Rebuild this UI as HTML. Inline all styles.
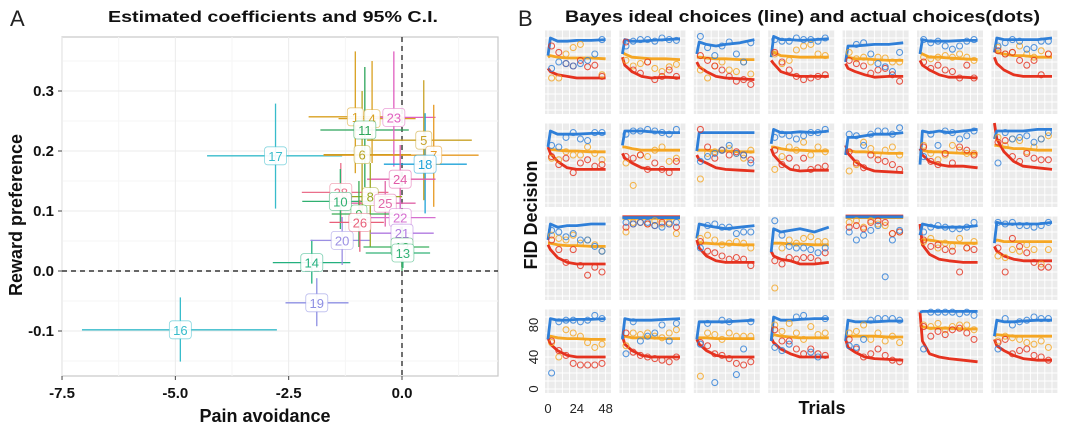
<!DOCTYPE html>
<html><head><meta charset="utf-8">
<style>
html,body{margin:0;padding:0;background:#fff;}
svg{display:block;font-family:"Liberation Sans",sans-serif;}
</style></head>
<body>
<svg id="fig" width="1080" height="430" viewBox="0 0 1080 430" xmlns="http://www.w3.org/2000/svg">
<text x="10" y="26" font-size="22" fill="#222">A</text>
<text x="108" y="22" font-size="16" font-weight="bold" textLength="330" lengthAdjust="spacingAndGlyphs" fill="#111">Estimated coefficients and 95% C.I.</text>
<text x="518" y="26" font-size="22" fill="#222">B</text>
<text x="565" y="22" font-size="17" font-weight="bold" textLength="475" lengthAdjust="spacingAndGlyphs" fill="#111">Bayes ideal choices (line) and actual choices(dots)</text>
<g id="pa"></g>
<g id="pb"></g>
<text x="265" y="422" font-size="18" font-weight="bold" text-anchor="middle" fill="#111">Pain avoidance</text>
<text transform="translate(22,215) rotate(-90)" font-size="18" font-weight="bold" text-anchor="middle" fill="#111">Reward preference</text>
<text transform="translate(537,215) rotate(-90)" font-size="18" font-weight="bold" text-anchor="middle" fill="#111">FID Decision</text>
<text x="822" y="414" font-size="18" font-weight="bold" text-anchor="middle" fill="#111">Trials</text>
</svg>
<script>
// ---------- Panel A data ----------
const aLabels = ["16","17","19","14","20","1","4","11","6","23","5","7","18","24","28","10","8","25","9","26","22","21","12","13"];
const aX   = [-4.89,-2.79,-1.88,-1.99,-1.32,-1.03,-0.66,-0.82,-0.88,-0.18,0.48,0.70,0.51,-0.04,-1.35,-1.36,-0.70,-0.37,-0.95,-0.93,-0.04,0.0,0.0,0.02];
const aY   = [-0.098,0.192,-0.053,0.014,0.051,0.257,0.254,0.235,0.194,0.256,0.218,0.193,0.178,0.153,0.131,0.116,0.124,0.113,0.095,0.081,0.089,0.063,0.040,0.030];
const aXlo = [-7.06,-4.30,-2.57,-2.85,-2.02,-2.06,-1.40,-1.80,-1.73,-0.55,-0.77,-1.73,-0.40,-0.77,-2.21,-2.20,-1.30,-1.30,-1.55,-1.60,-0.80,-0.70,-0.85,-0.80];
const aXhi = [-2.76,-1.32,-1.18,-1.14,-0.70,0.00,0.30,0.15,0.20,0.74,1.54,1.69,1.43,0.74,-0.30,-0.40,0.00,0.30,-0.20,-0.40,0.74,0.70,0.60,0.62];
const aYlo = [-0.151,0.104,-0.092,-0.021,0.010,0.163,0.180,0.140,0.090,0.174,0.118,0.107,0.096,0.090,0.080,0.070,0.040,0.074,0.040,0.032,0.060,0.030,0.000,0.005];
const aYhi = [-0.044,0.279,-0.012,0.052,0.090,0.366,0.350,0.340,0.300,0.366,0.318,0.277,0.263,0.210,0.180,0.170,0.180,0.150,0.150,0.118,0.120,0.100,0.080,0.070];
const aColors = ["#38bccb","#38bccb","#8d8fe3","#23b07f","#9b8fe3","#d9a020","#d9a020","#2ca55a","#b5a21f","#e060c0","#c9a227","#e69a22","#1fa3d8","#e05ca8","#ea6f8b","#30b070","#9aa820","#e066a8","#3aad55","#e8607a","#d670d0","#b07ae0","#3cb060","#33b277"];
const aXTicks = [-7.5,-5.0,-2.5,0.0];
const aYTicks = [-0.1,0.0,0.1,0.2,0.3];

const NS="http://www.w3.org/2000/svg";
function mk(tag,attrs,parent){const e=document.createElementNS(NS,tag);for(const k in attrs)e.setAttribute(k,attrs[k]);parent.appendChild(e);return e;}

const pa=document.getElementById('pa');
const AX0=62,AX1=498,AY0=37,AY1=376;
function ax(v){return 402+v*45.33;}
function ay(v){return 271-v*600;}
mk('rect',{x:AX0,y:AY0,width:AX1-AX0,height:AY1-AY0,fill:'#fff',stroke:'#c8c8c8','stroke-width':1.2},pa);
[-6.25,-3.75,-1.25,1.25].forEach(v=>mk('line',{x1:ax(v),x2:ax(v),y1:AY0,y2:AY1,stroke:'#f5f5f5','stroke-width':1},pa));
[-0.15,-0.05,0.05,0.15,0.25,0.35].forEach(v=>mk('line',{x1:AX0,x2:AX1,y1:ay(v),y2:ay(v),stroke:'#f5f5f5','stroke-width':1},pa));
aXTicks.forEach(v=>{
  const g=mk('line',{x1:ax(v),x2:ax(v),y1:AY0,y2:AY1,stroke:'#ebebeb','stroke-width':1},pa);
  
  
  mk('line',{x1:ax(v),x2:ax(v),y1:AY1,y2:AY1+4,stroke:'#444','stroke-width':1},pa);
  const t=mk('text',{x:ax(v),y:AY1+22,'font-size':15,'font-weight':'bold','text-anchor':'middle',fill:'#111'},pa);
  t.textContent=v.toFixed(1);
  
  
});
aYTicks.forEach(v=>{
  const g=mk('line',{x1:AX0,x2:AX1,y1:ay(v),y2:ay(v),stroke:'#ebebeb','stroke-width':1},pa);
  
  
  mk('line',{x1:AX0-4,x2:AX0,y1:ay(v),y2:ay(v),stroke:'#444','stroke-width':1},pa);
  const t=mk('text',{x:AX0-8,y:ay(v)+5,'font-size':15,'font-weight':'bold','text-anchor':'end',fill:'#111'},pa);
  t.textContent=v.toFixed(1);
  
  
});
const zx=mk('line',{x1:ax(0),x2:ax(0),y1:AY0,y2:AY1,stroke:'#333','stroke-width':1.4,'stroke-dasharray':'5,4'},pa);


const zy=mk('line',{x1:AX0,x2:AX1,y1:ay(0),y2:ay(0),stroke:'#333','stroke-width':1.4,'stroke-dasharray':'5,4'},pa);


for(let i=0;i<aLabels.length;i++){
  const g=mk('g',{},pa);
  
  
  mk('line',{x1:ax(aXlo[i]),x2:ax(aXhi[i]),y1:ay(aY[i]),y2:ay(aY[i]),stroke:aColors[i],'stroke-width':1.3},g);
  mk('line',{x1:ax(aX[i]),x2:ax(aX[i]),y1:ay(aYlo[i]),y2:ay(aYhi[i]),stroke:aColors[i],'stroke-width':1.3},g);
}
for(let i=0;i<aLabels.length;i++){
  const cx=ax(aX[i]),cy=ay(aY[i]);
  const w=aLabels[i].length>1?22:16;
  const r=mk('rect',{x:cx-w/2,y:cy-9,width:w,height:18,rx:3,fill:'#fff','fill-opacity':0.92,stroke:aColors[i],'stroke-width':0.8,'stroke-opacity':0.6},pa);
  
  
  const t=mk('text',{x:cx,y:cy+5,'font-size':13,'text-anchor':'middle',fill:aColors[i]},pa);
  t.textContent=aLabels[i];
  
  
}

// ---------- Panel B data ----------
const lineTrials = [0,2,8,16,24,36,48];
const dotTrials  = [3,9,15,21,27,33,39,45];
const blueLines = [
[68,90,86,86,87,87,88],[70,88,86,86,87,88,89],[70,85,82,80,82,84,88],[66,92,88,88,87,88,89],[60,80,80,81,82,82,84],[70,88,86,86,86,87,87],[72,90,88,88,88,88,90],
[70,90,86,86,86,87,87],[72,90,90,90,89,88,88],[65,88,88,88,88,88,88],[74,92,88,88,89,88,90],[60,82,82,84,86,86,88],[48,90,88,90,88,90,92],[80,90,90,90,90,92,92],
[70,90,86,88,88,90,90],[98,98,98,98,98,98,98],[72,90,88,86,84,86,88],[55,84,80,82,84,80,86],[99,99,99,99,99,99,99],[76,90,88,86,86,86,88],[66,92,90,90,90,90,92],
[62,88,86,86,87,87,88],[62,88,86,86,86,87,88],[62,84,84,84,84,85,86],[60,90,86,86,87,88,88],[60,86,84,84,84,85,85],[96,97,97,97,97,97,97],[66,86,84,84,85,86,86]];
const orangeLines = [
[66,68,66,65,65,65,64],[72,70,66,65,64,64,63],[66,66,65,64,64,63,63],[70,72,68,67,66,66,66],[66,66,64,64,63,62,62],[72,70,66,66,65,64,63],[74,72,70,68,68,66,66],
[66,67,66,65,65,64,64],[70,70,68,66,66,66,66],[66,66,66,65,65,64,64],[70,70,68,66,66,65,65],[66,66,64,64,63,62,62],[64,66,64,64,63,62,62],[72,72,70,68,68,66,66],
[66,66,64,63,63,62,62],[97,97,97,97,97,97,97],[66,66,66,65,65,64,64],[64,66,66,65,65,64,64],[98,98,98,98,98,98,98],[72,70,70,68,67,66,66],[68,70,68,68,68,68,68],
[62,66,64,63,63,62,62],[64,66,64,64,64,63,63],[62,64,64,63,63,63,63],[64,68,66,65,64,64,64],[64,66,66,66,66,65,65],[80,78,76,76,76,75,75],[66,68,67,66,66,66,66]];
const redLines = [
[52,48,44,42,40,40,40],[66,56,48,42,40,41,40],[60,54,48,42,40,39,38],[62,58,48,44,42,42,42],[58,52,48,44,41,42,42],[62,56,50,44,41,41,40],[66,58,50,44,42,42,42],
[70,62,52,44,42,42,42],[62,56,50,44,42,42,42],[60,54,50,44,42,41,40],[68,60,50,42,40,41,41],[72,62,52,44,40,39,38],[68,60,52,48,46,46,44],[100,80,64,52,46,44,42],
[64,58,48,42,40,40,40],[99,99,99,99,99,99,99],[70,60,50,44,42,42,42],[56,50,46,44,40,40,42],[100,100,100,100,100,100,100],[90,64,52,46,44,42,42],[62,56,50,46,44,44,44],
[64,56,48,42,40,40,40],[66,56,48,42,40,40,40],[62,56,48,42,40,40,40],[64,58,50,44,40,40,40],[62,52,46,40,38,37,36],[96,60,44,40,38,36,34],[62,54,48,42,38,36,36]];
const blueDots = [
[52,60,58,55,58,62,70,88],[80,86,88,88,86,90,88,87],[92,78,68,80,85,70,60,84],[88,86,86,90,88,88,86,90],[null,82,84,70,58,54,48,72],[88,84,86,80,76,80,86,88],[80,84,88,86,76,78,86,86],
[72,70,82,88,80,78,88,88],[86,90,90,92,90,88,86,92],[52,58,62,66,72,62,60,50],[82,86,84,80,84,88,88,92],[86,84,72,86,90,90,86,94],[58,86,72,90,88,80,84,90],[50,88,80,82,84,76,80,88],
[82,80,74,78,70,70,62,56],[92,90,92,92,88,86,90,92],[60,88,90,86,86,78,80,80],[94,76,62,60,60,58,54,60],[80,70,76,82,88,24,70,82],[80,86,88,86,84,84,86,92],[92,90,92,88,88,86,88,92],
[20,84,86,86,84,86,92,88],[44,84,60,66,70,80,60,82],[56,82,8,86,84,18,50,84],[52,48,56,90,92,46,40,88],[54,52,62,86,88,88,88,86],[50,96,96,96,96,94,96,92],[50,88,80,84,86,90,88,88]];
const orangeDots = [
[40,40,70,78,82,null,null,44],[62,55,58,60,52,48,54,57],[50,40,55,60,50,48,60,45],[70,58,62,75,80,82,70,68],[72,64,66,60,66,65,60,60],[66,64,66,68,66,70,66,62],[78,70,72,80,70,66,74,70],
[56,54,64,60,60,70,62,54],[50,22,60,58,66,70,52,56],[30,62,64,66,68,62,56,66],[42,58,70,66,76,60,70,64],[40,48,76,68,60,66,70,60],[72,62,54,60,72,66,62,62],[82,72,80,78,64,70,80,84],
[76,72,70,76,66,70,64,56],[80,92,92,90,94,90,92,78],[72,76,70,64,66,68,66,60],[10,60,70,66,72,74,68,68],[92,94,86,94,90,88,78,80],[68,72,60,66,62,72,60,68],[50,48,58,56,64,58,40,58],
[58,40,74,70,66,58,52,56],[54,70,68,70,66,64,70,74],[16,70,68,62,70,66,66,66],[80,72,82,70,62,78,68,70],[70,72,80,62,70,60,66,58],[80,78,82,74,78,80,80,74],[60,66,64,62,58,56,60,52]];
const redDots = [
[80,72,58,55,62,54,56,42],[85,50,46,60,38,42,50,42],[68,62,55,50,42,36,38,32],[72,60,50,42,38,40,42,44],[62,58,55,46,50,52,44,36],[60,52,56,50,48,40,56,40],[74,70,72,62,56,62,44,70],
[58,48,56,38,50,54,46,48],[58,56,60,42,50,42,38,52],[92,70,56,66,60,64,60,54],[66,48,56,44,56,42,44,46],[64,50,44,60,54,52,48,42],[70,52,48,62,50,70,66,60],[76,78,58,52,62,56,54,54],
[70,58,42,58,38,26,36,30],[86,90,92,90,88,92,90,86],[68,56,54,50,46,48,46,38],[44,40,48,46,48,48,44,54],[86,88,84,92,94,92,78,80],[70,62,64,58,56,30,60,58],[60,30,72,62,54,42,36,36],
[60,48,42,32,30,30,30,32],[70,46,42,40,38,36,34,40],[58,54,44,42,38,32,30,34],[74,60,60,50,44,50,44,42],[62,50,40,44,50,42,36,34],[78,66,72,68,74,76,70,62],[58,62,44,48,50,42,40,36]];
const bYTicks = [0,40,80];
const bXTicks = [0,24,48];

const pb=document.getElementById('pb');
const CW=66,CH=84;
function cellX(c){return 545+c*74.4;}
function cellY(r){return 30+r*93;}
const COL={blue:'#2f7fd8',orange:'#f5a623',red:'#e5321f'};
for(let k=0;k<28;k++){
  const r=Math.floor(k/7),c=k%7;
  const x0=cellX(c),y0=cellY(r);
  const sx=t=>x0+(t+2.5)/55*CW;
  const sy=v=>y0+CH-(v+5)/105*CH;
  const g=mk('g',{},pb);
  
  
  mk('rect',{x:x0,y:y0,width:CW,height:CH,fill:'#ebebeb'},g);
  for(let t=0;t<=48;t+=6) mk('line',{x1:sx(t),x2:sx(t),y1:y0,y2:y0+CH,stroke:'#fff','stroke-width':0.9},g);
  for(let v=0;v<=100;v+=10) mk('line',{x1:x0,x2:x0+CW,y1:sy(v),y2:sy(v),stroke:'#fff','stroke-width':0.9},g);
  const series=[['orange',orangeDots,orangeLines],['red',redDots,redLines],['blue',blueDots,blueLines]];
  series.forEach(([nm,dots,lines])=>{
    const d=lines[k].map((v,i)=>(i?'L':'M')+sx(lineTrials[i]).toFixed(1)+','+sy(v).toFixed(1)).join('');
    const p=mk('path',{d:d,fill:'none',stroke:COL[nm],'stroke-width':2.8,'stroke-linejoin':'round'},g);
    
    
  });
  series.forEach(([nm,dots])=>{
    dots[k].forEach((v,i)=>{
      if(v===null)return;
      const ci=mk('circle',{cx:sx(dotTrials[i]),cy:sy(v),r:3,fill:'none',stroke:COL[nm],'stroke-width':1.1,'stroke-opacity':0.8},g);
      
      
    });
  });
  if(c===0&&r===3){
    bYTicks.forEach(v=>{
      const t=mk('text',{transform:'translate('+(x0-7)+','+sy(v)+') rotate(-90)','font-size':13,'text-anchor':'middle',fill:'#222'},pb);
      t.textContent=v;
      
      
    });
    bXTicks.forEach(v=>{
      const t=mk('text',{x:sx(v),y:y0+CH+20,'font-size':13,'text-anchor':'middle',fill:'#222'},pb);
      t.textContent=v;
      
      
    });
  }
}
</script>
</body></html>
